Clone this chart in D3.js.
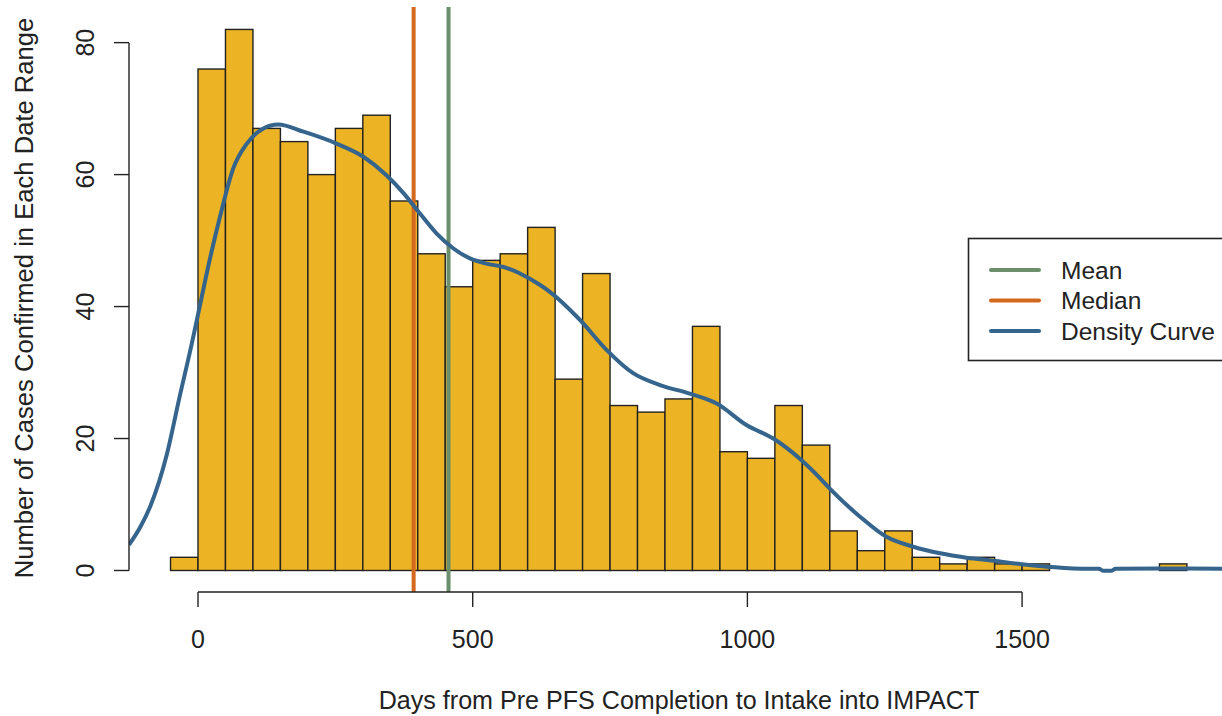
<!DOCTYPE html>
<html>
<head>
<meta charset="utf-8">
<script src="https://cdn.jsdelivr.net/npm/d3@7"></script>
<style>
  body { margin: 0; background: #fff; }
  svg { display: block; font-family: "Liberation Sans", Arial, sans-serif; }
</style>
</head>
<body>
<svg id="chart" width="1222" height="716"></svg>
<script>
// histogram bins (start of each 50-day bin) and counts
const binStarts = [-50, 0, 50, 100, 150, 200, 250, 300, 350, 400, 450, 500, 550, 600, 650, 700, 750, 800, 850, 900,
	950, 1000, 1050, 1100, 1150, 1200, 1250, 1300, 1350, 1400, 1450, 1500, 1550, 1600, 1650, 1700, 1750];
const counts = [2, 76, 82, 67, 65, 60, 67, 69, 56, 48, 43, 47, 48, 52, 29, 45, 25, 24, 26, 37,
	18, 17, 25, 19, 6, 3, 6, 2, 1, 2, 1, 1, 0, 0, 0, 0, 1];
const binWidth = 50;

// density curve, scaled to counts
const densX = [-125.6, -105, -87, -57, -33, -11.5, 3.6, 20, 40, 64, 89, 119, 146, 192, 252, 301, 343, 374, 404, 434, 465, 495,
	525, 556, 586, 622, 641, 695, 744, 792, 841, 895, 944, 999, 1047, 1096, 1132, 1150, 1205, 1253, 1302, 1351,
	1399, 1448, 1496, 1545, 1593, 1640, 1648, 1662, 1670, 1750, 1800, 1876];
const densY = [3.9, 6.6, 9.7, 17.5, 26.5, 34.3, 40.2, 46.6, 53.6, 60.9, 64.7, 67, 67.6, 66.5, 64.7, 62.7, 59.9, 57.2, 54.1, 51.1, 48.8, 47.3,
	46.5, 46.0, 45.0, 43.3, 42.2, 38, 33.4, 29.9, 28.1, 26.8, 25.3, 22.0, 20.0, 16.9, 14.0, 12.4, 8.15, 5.1, 3.6, 2.6,
	1.94, 1.48, 0.98, 0.58, 0.3, 0.25, -0.05, -0.05, 0.25, 0.3, 0.3, 0.25];

const meanDays = 456;
const medianDays = 392.5;

const xTicks = [0, 500, 1000, 1500];
const yTicks = [0, 20, 40, 60, 80];

const legendLabels = ["Mean", "Median", "Density Curve"];
const legendColors = ["#6b8e6b", "#d2691e", "#35648c"];

const barFill = "#ecb424";
const ink = "#222";

let svg = d3.select("#chart");

let x = d3.scaleLinear().domain([-125.6, 1876.6]).range([129, 1229]);
let y = d3.scaleLinear().domain([-3.26, 85.4]).range([592, 7]);

svg.append("clipPath").attr("id", "plotclip")
	.append("rect")
	.attr("x", 129).attr("y", 7)
	.attr("width", 1100).attr("height", 585);

let bins = binStarts.map(function (b, i) { return { start: b, count: counts[i] }; });

// bars
svg.append("g")
	.selectAll("rect")
	.data(bins)
	.enter()
	.append("rect")
	.attr("x", function (d) { return x(d.start); })
	.attr("width", function (d) { return x(d.start + binWidth) - x(d.start); })
	.attr("y", function (d) { return y(d.count); })
	.attr("height", function (d) { return y(0) - y(d.count); })
	.attr("fill", barFill)
	.attr("stroke", ink)
	.attr("stroke-width", 1.4);

// median and mean lines
let vlines = svg.append("g").attr("clip-path", "url(#plotclip)");
vlines.append("line")
	.attr("x1", x(medianDays)).attr("x2", x(medianDays))
	.attr("y1", y.range()[1]).attr("y2", y.range()[0])
	.attr("stroke", legendColors[1]).attr("stroke-width", 4);
vlines.append("line")
	.attr("x1", x(meanDays)).attr("x2", x(meanDays))
	.attr("y1", y.range()[1]).attr("y2", y.range()[0])
	.attr("stroke", legendColors[0]).attr("stroke-width", 4);

// density curve
let dens = densX.map(function (d, i) { return [d, densY[i]]; });
let line = d3.line()
	.x(function (d) { return x(d[0]); })
	.y(function (d) { return y(d[1]); })
	.curve(d3.curveMonotoneX);

svg.append("path")
	.datum(dens)
	.attr("clip-path", "url(#plotclip)")
	.attr("d", line)
	.attr("fill", "none")
	.attr("stroke", legendColors[2])
	.attr("stroke-width", 4)
	.attr("stroke-linejoin", "round");

// x axis (R style: line only between first and last tick)
let xAxis = svg.append("g").attr("transform", "translate(0,592)");
xAxis.append("line")
	.attr("x1", x(xTicks[0])).attr("x2", x(xTicks[xTicks.length - 1]))
	.attr("stroke", ink).attr("stroke-width", 1.4);
xAxis.selectAll(".tick")
	.data(xTicks)
	.enter()
	.append("line")
	.attr("x1", function (d) { return x(d); }).attr("x2", function (d) { return x(d); })
	.attr("y1", 0).attr("y2", 15)
	.attr("stroke", ink).attr("stroke-width", 1.4);
xAxis.selectAll(".lbl")
	.data(xTicks)
	.enter()
	.append("text")
	.attr("x", function (d) { return x(d); })
	.attr("y", 56)
	.attr("text-anchor", "middle")
	.attr("font-size", 25)
	.attr("fill", ink)
	.text(function (d) { return d; });

// y axis
let yAxis = svg.append("g").attr("transform", "translate(129,0)");
yAxis.append("line")
	.attr("y1", y(yTicks[0])).attr("y2", y(yTicks[yTicks.length - 1]))
	.attr("stroke", ink).attr("stroke-width", 1.4);
yAxis.selectAll(".tick")
	.data(yTicks)
	.enter()
	.append("line")
	.attr("y1", function (d) { return y(d); }).attr("y2", function (d) { return y(d); })
	.attr("x1", 0).attr("x2", -15)
	.attr("stroke", ink).attr("stroke-width", 1.4);
yAxis.selectAll(".lbl")
	.data(yTicks)
	.enter()
	.append("text")
	.attr("transform", function (d) { return "translate(-35," + y(d) + ") rotate(-90)"; })
	.attr("text-anchor", "middle")
	.attr("font-size", 25)
	.attr("fill", ink)
	.text(function (d) { return d; });

// axis titles
svg.append("text")
	.attr("x", 679).attr("y", 709)
	.attr("text-anchor", "middle")
	.attr("font-size", 25.1)
	.attr("fill", ink)
	.text("Days from Pre PFS Completion to Intake into IMPACT");

svg.append("text")
	.attr("transform", "translate(33,298) rotate(-90)")
	.attr("text-anchor", "middle")
	.attr("font-size", 25.6)
	.attr("fill", ink)
	.text("Number of Cases Confirmed in Each Date Range");

// legend
let legend = svg.append("g");
legend.append("rect")
	.attr("x", 968.5).attr("y", 238.5)
	.attr("width", 280).attr("height", 122)
	.attr("fill", "#fff")
	.attr("stroke", ink).attr("stroke-width", 1.6);
let rows = legend.selectAll(".row")
	.data(legendLabels)
	.enter()
	.append("g")
	.attr("transform", function (d, i) { return "translate(0," + (270 + i * 30.5) + ")"; });
rows.append("line")
	.attr("x1", 991).attr("x2", 1039)
	.attr("stroke", function (d, i) { return legendColors[i]; })
	.attr("stroke-width", 4)
	.attr("stroke-linecap", "round");
rows.append("text")
	.attr("x", 1061)
	.attr("dy", "0.36em")
	.attr("font-size", 24.5)
	.attr("fill", ink)
	.text(function (d) { return d; });
</script>
</body>
</html>
